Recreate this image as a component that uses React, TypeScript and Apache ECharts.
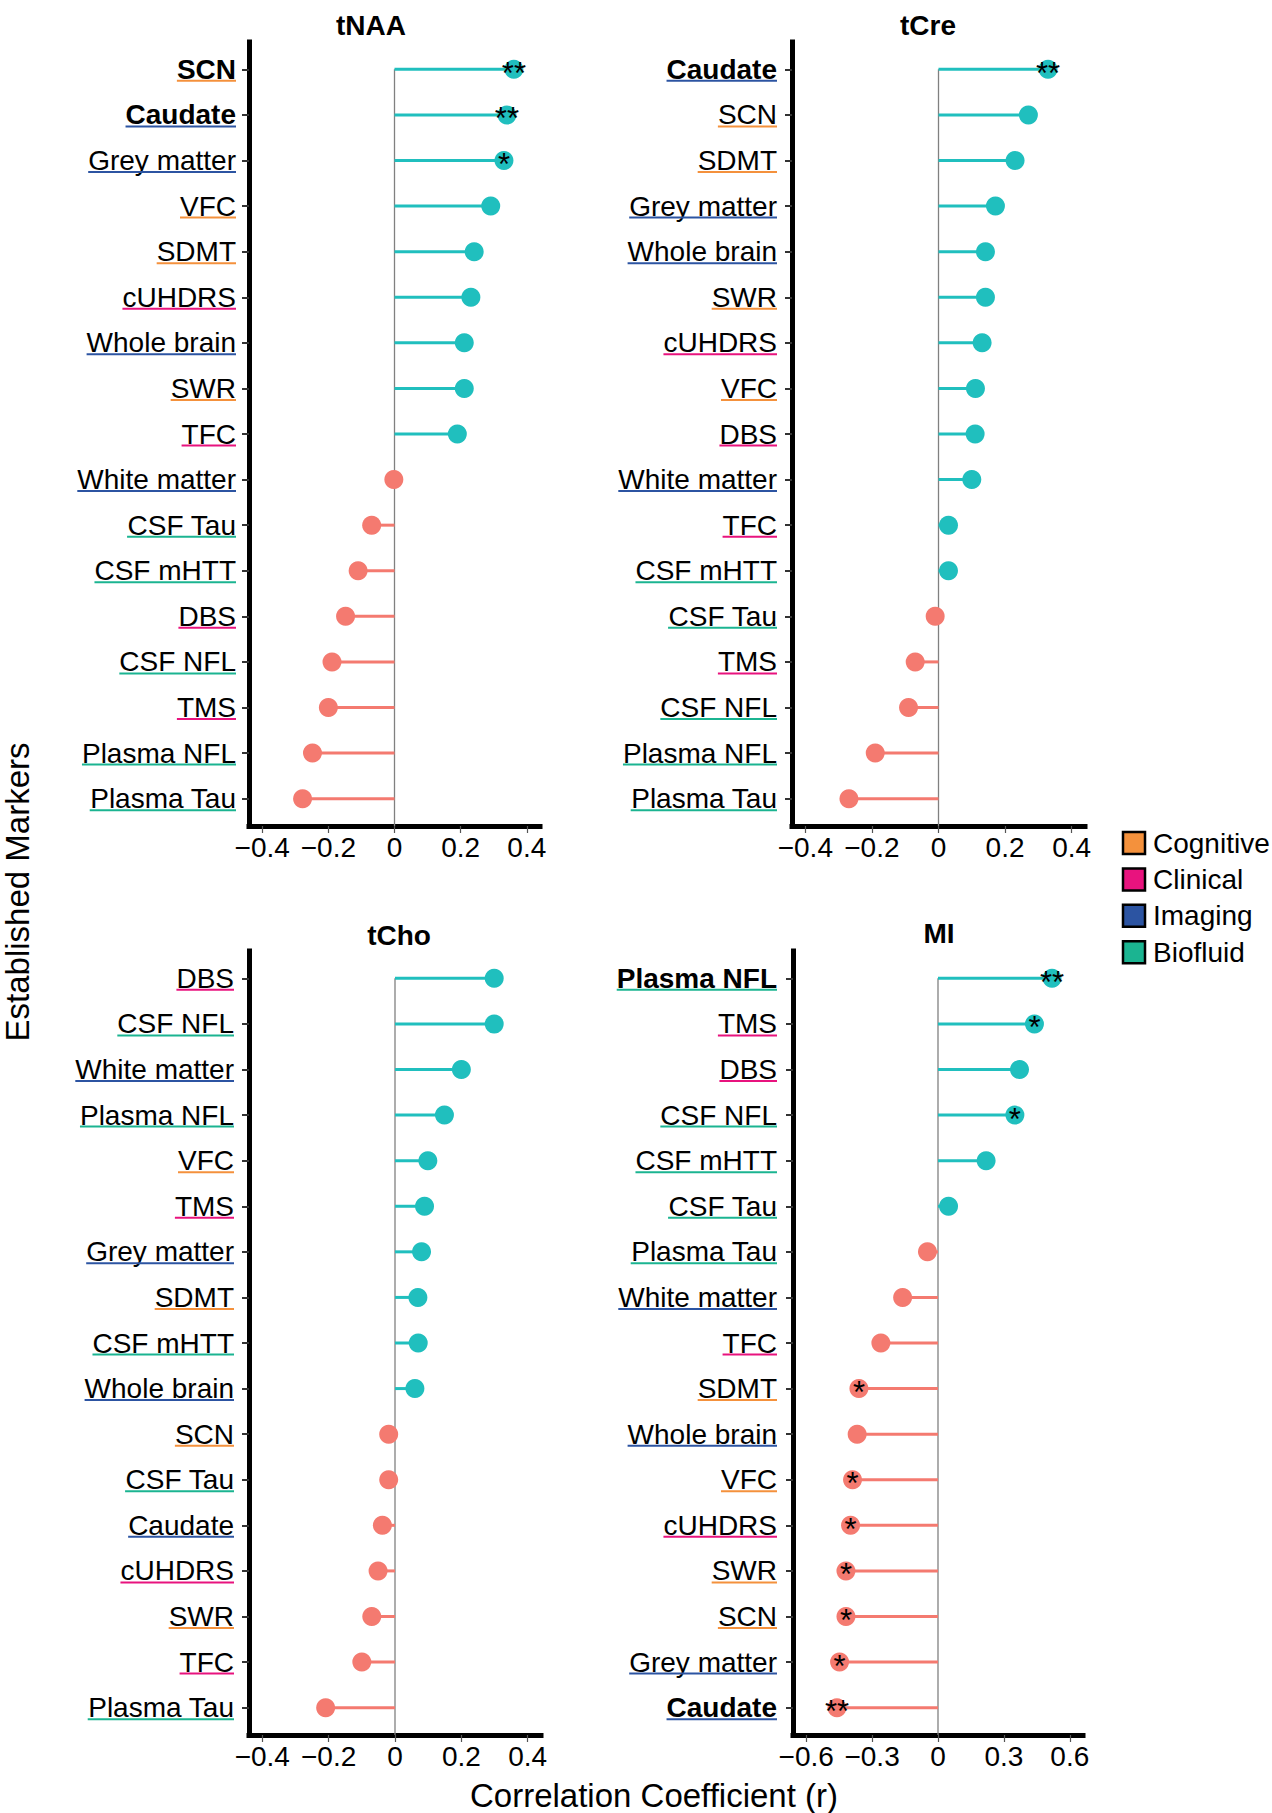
import React, { useEffect, useRef } from "react";
import * as echarts from "echarts";

const FONT = "'Liberation Sans', Arial, Helvetica, sans-serif";
const TEAL = "#20BFBE";
const SALMON = "#F47A70";

const GROUP_NAMES = ["Cognitive", "Clinical", "Imaging", "Biofluid"];
const GROUP_COLORS = ["#F4913C", "#E8137E", "#2C54A2", "#1BB491"];

// marker -> group index
const MARKER_GROUP: Record<string, number> = {
  SCN: 0, VFC: 0, SDMT: 0, SWR: 0,
  cUHDRS: 1, TFC: 1, DBS: 1, TMS: 1,
  Caudate: 2, "Grey matter": 2, "Whole brain": 2, "White matter": 2,
  "CSF Tau": 3, "CSF mHTT": 3, "CSF NFL": 3, "Plasma NFL": 3, "Plasma Tau": 3,
};

// ---- tNAA ----
const tnaaMarkers = ["SCN", "Caudate", "Grey matter", "VFC", "SDMT", "cUHDRS", "Whole brain", "SWR", "TFC", "White matter", "CSF Tau", "CSF mHTT", "DBS", "CSF NFL", "TMS", "Plasma NFL", "Plasma Tau"];
const tnaaValues = [0.361, 0.34, 0.331, 0.291, 0.241, 0.231, 0.211, 0.211, 0.19, -0.002, -0.069, -0.11, -0.148, -0.189, -0.2, -0.248, -0.278];
const tnaaStars = ["**", "**", "*", "", "", "", "", "", "", "", "", "", "", "", "", "", ""];
const tnaaBold = ["SCN", "Caudate"];

// ---- tCre ----
const tcreMarkers = ["Caudate", "SCN", "SDMT", "Grey matter", "Whole brain", "SWR", "cUHDRS", "VFC", "DBS", "White matter", "TFC", "CSF mHTT", "CSF Tau", "TMS", "CSF NFL", "Plasma NFL", "Plasma Tau"];
const tcreValues = [0.329, 0.27, 0.23, 0.171, 0.141, 0.141, 0.131, 0.111, 0.11, 0.1, 0.03, 0.03, -0.01, -0.07, -0.09, -0.19, -0.269];
const tcreStars = ["**", "", "", "", "", "", "", "", "", "", "", "", "", "", "", "", ""];
const tcreBold = ["Caudate"];

// ---- tCho ----
const tchoMarkers = ["DBS", "CSF NFL", "White matter", "Plasma NFL", "VFC", "TMS", "Grey matter", "SDMT", "CSF mHTT", "Whole brain", "SCN", "CSF Tau", "Caudate", "cUHDRS", "SWR", "TFC", "Plasma Tau"];
const tchoValues = [0.299, 0.299, 0.2, 0.149, 0.099, 0.089, 0.08, 0.069, 0.07, 0.06, -0.019, -0.019, -0.038, -0.051, -0.07, -0.1, -0.209];
const tchoStars = ["", "", "", "", "", "", "", "", "", "", "", "", "", "", "", "", ""];
const tchoBold: string[] = [];

// ---- MI ----
const miMarkers = ["Plasma NFL", "TMS", "DBS", "CSF NFL", "CSF mHTT", "CSF Tau", "Plasma Tau", "White matter", "TFC", "SDMT", "Whole brain", "VFC", "cUHDRS", "SWR", "SCN", "Grey matter", "Caudate"];
const miValues = [0.519, 0.439, 0.371, 0.35, 0.219, 0.048, -0.048, -0.161, -0.26, -0.36, -0.368, -0.389, -0.398, -0.419, -0.419, -0.448, -0.46];
const miStars = ["**", "*", "", "*", "", "", "", "", "", "*", "", "*", "*", "*", "*", "*", "**"];
const miBold = ["Plasma NFL", "Caudate"];

const ticksSmall = [-0.4, -0.2, 0, 0.2, 0.4];
const ticksLarge = [-0.6, -0.3, 0, 0.3, 0.6];

const panels = [
  { title: "tNAA", markers: tnaaMarkers, values: tnaaValues, stars: tnaaStars, bold: tnaaBold, ticks: ticksSmall, lim: 0.44,
    left: 249, top: 42, width: 291, height: 784, margin: 13, titleX: 371, titleY: 25 },
  { title: "tCre", markers: tcreMarkers, values: tcreValues, stars: tcreStars, bold: tcreBold, ticks: ticksSmall, lim: 0.44,
    left: 792, top: 42, width: 293, height: 784, margin: 15, titleX: 928, titleY: 25 },
  { title: "tCho", markers: tchoMarkers, values: tchoValues, stars: tchoStars, bold: tchoBold, ticks: ticksSmall, lim: 0.44,
    left: 249, top: 951, width: 292, height: 784, margin: 15, titleX: 399, titleY: 935 },
  { title: "MI", markers: miMarkers, values: miValues, stars: miStars, bold: miBold, ticks: ticksLarge, lim: 0.66,
    left: 793, top: 951, width: 290, height: 784, margin: 16, titleX: 939, titleY: 933 },
];

let measureCtx: CanvasRenderingContext2D | null = null;
function textWidth(text: string, bold: boolean): number {
  if (!measureCtx) {
    const c = document.createElement("canvas");
    measureCtx = c.getContext("2d");
  }
  if (!measureCtx) return text.length * 15;
  measureCtx.font = `${bold ? "bold " : ""}28px ${FONT}`;
  return measureCtx.measureText(text).width;
}

function fmtTick(v: number): string {
  if (Math.abs(v) < 1e-9) return "0";
  return (v < 0 ? "\u2212" : "") + Math.abs(v).toFixed(1);
}

function buildOption() {
  const grid: any[] = [];
  const xAxis: any[] = [];
  const yAxis: any[] = [];
  const series: any[] = [];
  const graphic: any[] = [];

  panels.forEach((p, gi) => {
    const n = p.markers.length;
    const idx = p.markers.map((_, i) => i);
    grid.push({ left: p.left, top: p.top, width: p.width, height: p.height, containLabel: false });
    xAxis.push({
      type: "value", gridIndex: gi, min: -p.lim, max: p.lim,
      splitLine: { show: false },
      axisLine: { show: true, onZero: false, lineStyle: { color: "#000", width: 5, cap: "square" } },
      axisTick: { show: true, customValues: p.ticks, length: 7, lineStyle: { color: "#555", width: 1.2 } },
      axisLabel: { show: true, customValues: p.ticks, formatter: (v: number) => fmtTick(v), fontSize: 28, fontFamily: FONT, color: "#000", margin: 7 },
    });
    yAxis.push({
      type: "value", gridIndex: gi, min: -0.6, max: n - 1 + 0.6, inverse: true,
      splitLine: { show: false },
      axisLine: { show: true, onZero: false, lineStyle: { color: "#000", width: 5, cap: "square" } },
      axisTick: { show: true, customValues: idx, length: 7, lineStyle: { color: "#333", width: 2 } },
      axisLabel: {
        show: true, customValues: idx, margin: p.margin,
        formatter: (v: number) => {
          const name = p.markers[Math.round(v)] ?? "";
          return p.bold.includes(name) ? `{b|${name}}` : `{n|${name}}`;
        },
        rich: {
          b: { fontSize: 28, fontFamily: FONT, fontWeight: "bold", color: "#000" },
          n: { fontSize: 28, fontFamily: FONT, color: "#000" },
        },
      },
    });

    // zero reference line
    series.push({
      type: "custom", xAxisIndex: gi, yAxisIndex: gi, clip: false, silent: true, z: 1,
      data: [[0, 0]],
      renderItem: (params: any, api: any) => {
        const a = api.coord([api.value(0), api.value(1)]);
        const b = api.coord([api.value(0), n - 1 + 0.6]);
        return { type: "line", shape: { x1: a[0], y1: a[1], x2: b[0], y2: b[1] }, style: { stroke: "#808080", lineWidth: 1.3 } };
      },
    });

    // stems
    series.push({
      type: "custom", xAxisIndex: gi, yAxisIndex: gi, clip: false, silent: true, z: 2,
      data: p.values.map((v, i) => [v, i]),
      renderItem: (params: any, api: any) => {
        const v = api.value(0);
        const a = api.coord([0, api.value(1)]);
        const b = api.coord([v, api.value(1)]);
        return { type: "line", shape: { x1: a[0], y1: a[1], x2: b[0], y2: b[1] }, style: { stroke: v >= 0 ? TEAL : SALMON, lineWidth: 3 } };
      },
    });

    // dots with significance stars
    series.push({
      type: "scatter", xAxisIndex: gi, yAxisIndex: gi, symbol: "circle", symbolSize: 19, z: 3, silent: true,
      data: p.values.map((v, i) => ({
        value: [v, i],
        itemStyle: { color: v >= 0 ? TEAL : SALMON, opacity: 1 },
      })),
      label: {
        show: true, position: "inside", offset: [0, 4],
        formatter: (q: any) => p.stars[q.dataIndex] || "",
        fontSize: 31, fontFamily: FONT, color: "#000",
      },
    });

    // coloured underlines of the marker labels
    series.push({
      type: "custom", xAxisIndex: gi, yAxisIndex: gi, clip: false, silent: true, z: 4,
      data: p.markers.map((_, i) => [-p.lim, i]),
      renderItem: (params: any, api: any) => {
        const i = params.dataIndex;
        const name = p.markers[i];
        const pt = api.coord([api.value(0), api.value(1)]);
        const right = pt[0] - p.margin;
        const w = textWidth(name, p.bold.includes(name));
        const y = pt[1] + 11.5;
        return { type: "line", shape: { x1: right - w, y1: y, x2: right, y2: y }, style: { stroke: GROUP_COLORS[MARKER_GROUP[name]], lineWidth: 2 } };
      },
    });

    graphic.push({
      type: "text", x: p.titleX, y: p.titleY,
      style: { text: p.title, fontSize: 28, fontWeight: "bold", fontFamily: FONT, fill: "#000", align: "center", verticalAlign: "middle" },
    });
  });

  // axis titles
  graphic.push({
    type: "text", x: 654, y: 1795,
    style: { text: "Correlation Coefficient (r)", fontSize: 33, fontFamily: FONT, fill: "#000", align: "center", verticalAlign: "middle" },
  });
  graphic.push({
    type: "text", x: 17, y: 892, rotation: Math.PI / 2,
    style: { text: "Established Markers", fontSize: 33, fontFamily: FONT, fill: "#000", align: "center", verticalAlign: "middle" },
  });

  // legend
  GROUP_NAMES.forEach((g, k) => {
    const cy = 843 + k * 36.4;
    graphic.push({
      type: "rect", x: 1123, y: cy - 11, shape: { width: 22, height: 22 },
      style: { fill: GROUP_COLORS[k], stroke: "#000", lineWidth: 2.5 },
    });
    graphic.push({
      type: "text", x: 1153, y: cy,
      style: { text: g, fontSize: 28, fontFamily: FONT, fill: "#000", align: "left", verticalAlign: "middle" },
    });
  });

  return {
    animation: false,
    backgroundColor: "#fff",
    textStyle: { fontFamily: FONT },
    grid, xAxis, yAxis, series, graphic,
  };
}

export default function App() {
  const ref = useRef<HTMLDivElement>(null);
  useEffect(() => {
    if (!ref.current) return;
    const chart = echarts.init(ref.current, undefined, { renderer: "svg" });
    chart.setOption(buildOption() as any);
    return () => chart.dispose();
  }, []);
  return <div ref={ref} style={{ position: "absolute", left: 0, top: 0, width: 1272, height: 1813 }} />;
}
